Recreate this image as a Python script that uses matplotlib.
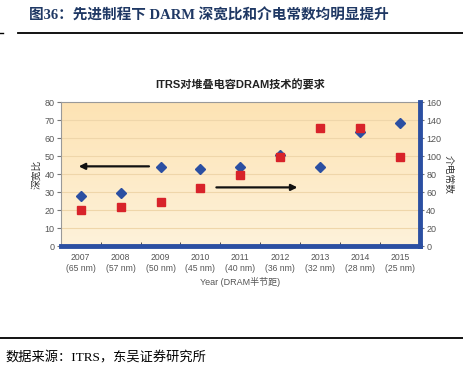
import numpy as np
import matplotlib.pyplot as plt
from matplotlib.colors import LinearSegmentedColormap

plt.rcParams['font.family'] = ['Liberation Sans', 'Noto Sans CJK SC', 'DejaVu Sans']

# data
years = ['2007', '2008', '2009', '2010', '2011', '2012', '2013', '2014', '2015']
nodes = ['65 nm', '57 nm', '50 nm', '45 nm', '40 nm', '36 nm', '32 nm', '28 nm', '25 nm']
aspect_ratio = [28, 29.3, 44.2, 42.8, 43.8, 50.5, 43.8, 63.3, 68.2]
dielectric = [40, 43, 49, 65, 78.5, 98.5, 131, 131, 98.5]

blue = '#2b4fa2'
red = '#d8232a'
navy = '#1f3864'
serif = ['Liberation Serif', 'Noto Sans CJK SC']

fig = plt.figure(figsize=(4.64, 3.70), dpi=100)

# page title and rules
fig.text(0.062, 0.958, '图36：先进制程下 DARM 深宽比和介电常数均明显提升',
         fontsize=10.5, fontweight='bold', color=navy, family=serif,
         va='center', ha='left')
fig.add_artist(plt.Line2D([0.039, 1.0], [0.911, 0.911], color='black', lw=1.3))
fig.add_artist(plt.Line2D([0.0, 0.006], [0.911, 0.911], color='black', lw=1.0))
fig.add_artist(plt.Line2D([0.0, 1.0], [0.087, 0.087], color='black', lw=1.3))
fig.text(0.012, 0.032, '数据来源：ITRS，东吴证券研究所', fontsize=9.5,
         color='black', family=serif, va='center', ha='left')

ax = fig.add_axes([0.131, 0.335, 0.774, 0.389])
x = np.arange(len(years))

# gradient background
cmap = LinearSegmentedColormap.from_list('bg', ['#fef2da', '#fde3b4'])
ax.imshow(np.linspace(0, 1, 100).reshape(-1, 1), cmap=cmap, aspect='auto',
          extent=[-0.5, 8.5, 0, 80], origin='lower', zorder=0)

ax.set_xlim(-0.5, 8.5)
ax.set_ylim(0, 80)
ax.set_yticks(range(0, 81, 10))
ax.yaxis.grid(True, color='#efd6aa', lw=0.8, zorder=1)
ax.set_axisbelow(True)

ax.set_xticks(x)
ax.set_xticklabels([f'{y}\n({n})' for y, n in zip(years, nodes)],
                   fontsize=6.2, color='#555555', linespacing=1.3)
ax.set_xticks(np.arange(-0.5, 9, 1), minor=True)
ax.tick_params(axis='x', which='major', length=0, pad=5)
ax.tick_params(axis='x', which='minor', length=3, color='#333333', direction='in')
ax.tick_params(axis='y', labelsize=6.5, labelcolor='#555555', length=3,
               color='#777777', pad=1.5)

for s in ['top', 'left']:
    ax.spines[s].set_color('#999999')
    ax.spines[s].set_linewidth(0.8)
ax.spines['bottom'].set_color(blue)
ax.spines['bottom'].set_linewidth(3.5)
ax.spines['right'].set_visible(False)

ax.set_ylabel('深宽比', fontsize=7, color='#333333', labelpad=2)
ax.set_xlabel('Year (DRAM半节距)', fontsize=6.5, color='#555555', labelpad=3)
ax.set_title('ITRS对堆叠电容DRAM技术的要求', fontsize=8, fontweight='bold',
             color='#222222', pad=10)

ax2 = ax.twinx()
ax2.set_ylim(0, 160)
ax2.set_yticks(range(0, 161, 20))
ax2.tick_params(axis='y', labelsize=6.5, labelcolor='#555555', length=3,
                color='#777777', pad=1.5)
for s in ['top', 'left', 'bottom']:
    ax2.spines[s].set_visible(False)
ax2.spines['right'].set_color(blue)
ax2.spines['right'].set_linewidth(3.5)
ax2.set_ylabel('介电常数', fontsize=7, color='#333333', rotation=270,
               labelpad=9)

ax.plot(x, aspect_ratio, linestyle='none', marker='D', markersize=5.6,
        color=blue, zorder=4)
ax2.plot(x, dielectric, linestyle='none', marker='s', markersize=6.3,
         color=red, zorder=5)

ax.annotate('', xy=(-0.12, 44.3), xytext=(1.78, 44.3),
            arrowprops=dict(arrowstyle='-|>', color='#111111', lw=1.6,
                            mutation_scale=9))
ax.annotate('', xy=(5.5, 32.6), xytext=(3.33, 32.6),
            arrowprops=dict(arrowstyle='-|>', color='#111111', lw=1.6,
                            mutation_scale=9))

fig.savefig('out.png', dpi=100)
